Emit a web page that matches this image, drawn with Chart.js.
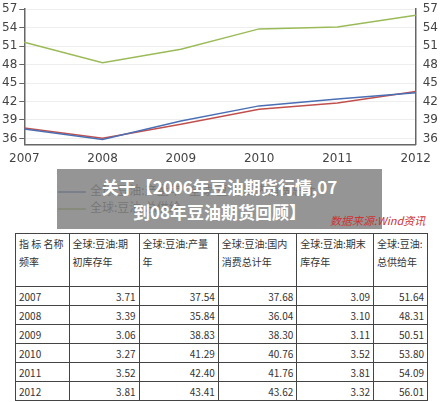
<!DOCTYPE html>
<html>
<head>
<meta charset="utf-8">
<script src="https://cdn.jsdelivr.net/npm/chart.js@4"></script>
<style>
    body { margin: 0; width: 440px; height: 402px; background: #fff; font-family: "Noto Sans CJK SC", sans-serif; position: relative; overflow: hidden; }
    #wrap { position: absolute; left: 0; top: 0; width: 440px; height: 168px; }
    .legend { position: absolute; font-size: 12px; color: #333; }
    .legend span { display: inline-block; width: 28px; height: 2px; vertical-align: middle; margin-right: 4px; }
    #overlay { position: absolute; left: 57px; top: 169px; width: 325px; height: 60px; background: rgba(130,130,130,0.85); color: #fff; font-weight: bold; font-size: 17px; line-height: 25px; text-align: center; padding-top: 5px; box-sizing: border-box; }
    #src { position: absolute; left: 330px; top: 212px; font-size: 11px; color: #c33; font-style: italic; }
    table { position: absolute; left: 15px; top: 233px; width: 413px; border-collapse: collapse; font-size: 10px; color: #333; }
    td { border: 1px solid #444; padding: 1px 3px; height: 16px; }
    tr.h td { vertical-align: top; height: 50px; line-height: 18px; }
    td.n { text-align: right; }
</style>
</head>
<body>
<div id="wrap"><canvas id="chart"></canvas></div>
<div class="legend" style="left:58px;top:181px"><span style="background:#4a6fb5"></span>全球:豆油:产量年 &nbsp; 全球:豆油:国内消费总计</div>
<div class="legend" style="left:58px;top:198px"><span style="background:#9bbb59"></span>全球:豆油:总供给</div>
<div id="overlay">关于【2006年豆油期货行情,07<br>到08年豆油期货回顾】</div>
<div id="src">数据来源:Wind资讯</div>
<table id="tbl"></table>
<script>
const years = ['2007', '2008', '2009', '2010', '2011', '2012'];
const beginStock = [3.71, 3.39, 3.06, 3.27, 3.52, 3.81];
const production = [37.54, 35.84, 38.83, 41.29, 42.40, 43.41];
const consumption = [37.68, 36.04, 38.30, 40.76, 41.76, 43.62];
const endStock = [3.09, 3.10, 3.11, 3.52, 3.81, 3.32];
const supply = [51.64, 48.31, 50.51, 53.80, 54.09, 56.01];
const yTicks = [36, 39, 42, 45, 48, 51, 54, 57];

const headers = ['指 标 名称频率', '全球:豆油:期初库存年', '全球:豆油:产量年', '全球:豆油:国内消费总计年', '全球:豆油:期末库存年', '全球:豆油:总供给年'];
const widths = [51, 71, 81, 80, 79, 51];
let html = '<tr class="h">' + headers.map((h, i) => `<td style="width:${widths[i]}px">${h}</td>`).join('') + '</tr>';
years.forEach((y, i) => {
    html += `<tr><td>${y}</td><td class="n">${beginStock[i].toFixed(2)}</td><td class="n">${production[i].toFixed(2)}</td>` +
        `<td class="n">${consumption[i].toFixed(2)}</td><td class="n">${endStock[i].toFixed(2)}</td><td class="n">${supply[i].toFixed(2)}</td></tr>`;
});
document.getElementById('tbl').innerHTML = html;

const axisY = position => ({
    position: position,
    min: 35,
    max: 57,
    afterBuildTicks: axis => { axis.ticks = yTicks.map(v => ({ value: v })); },
    ticks: { color: '#444', font: { size: 12, family: 'DejaVu Sans' }, padding: 2 },
    grid: { display: position === 'left', color: '#eee', tickLength: 5, tickColor: '#666' },
    border: { color: '#666', width: 1.5 },
});

new Chart(document.getElementById('chart').getContext('2d'), {
    type: 'line',
    data: {
        labels: years,
        datasets: [
            { data: production, borderColor: '#4a6fb5', borderWidth: 1.5, pointRadius: 0, tension: 0 },
            { data: consumption, borderColor: '#c0504d', borderWidth: 1.5, pointRadius: 0, tension: 0 },
            { data: supply, borderColor: '#9bbb59', borderWidth: 1.5, pointRadius: 0, tension: 0 },
        ],
    },
    options: {
        animation: false,
        maintainAspectRatio: false,
        responsive: true,
        layout: { padding: { top: 4, left: 0, right: 0 } },
        plugins: { legend: { display: false }, tooltip: { enabled: false } },
        scales: {
            x: {
                offset: false,
                ticks: { color: '#444', font: { size: 12, family: 'DejaVu Sans' }, maxRotation: 0, padding: 2 },
                grid: { display: false, tickLength: 5 },
                border: { color: '#666', width: 1.5 },
            },
            y: axisY('left'),
            y1: axisY('right'),
        },
    },
});
</script>
</body>
</html>
